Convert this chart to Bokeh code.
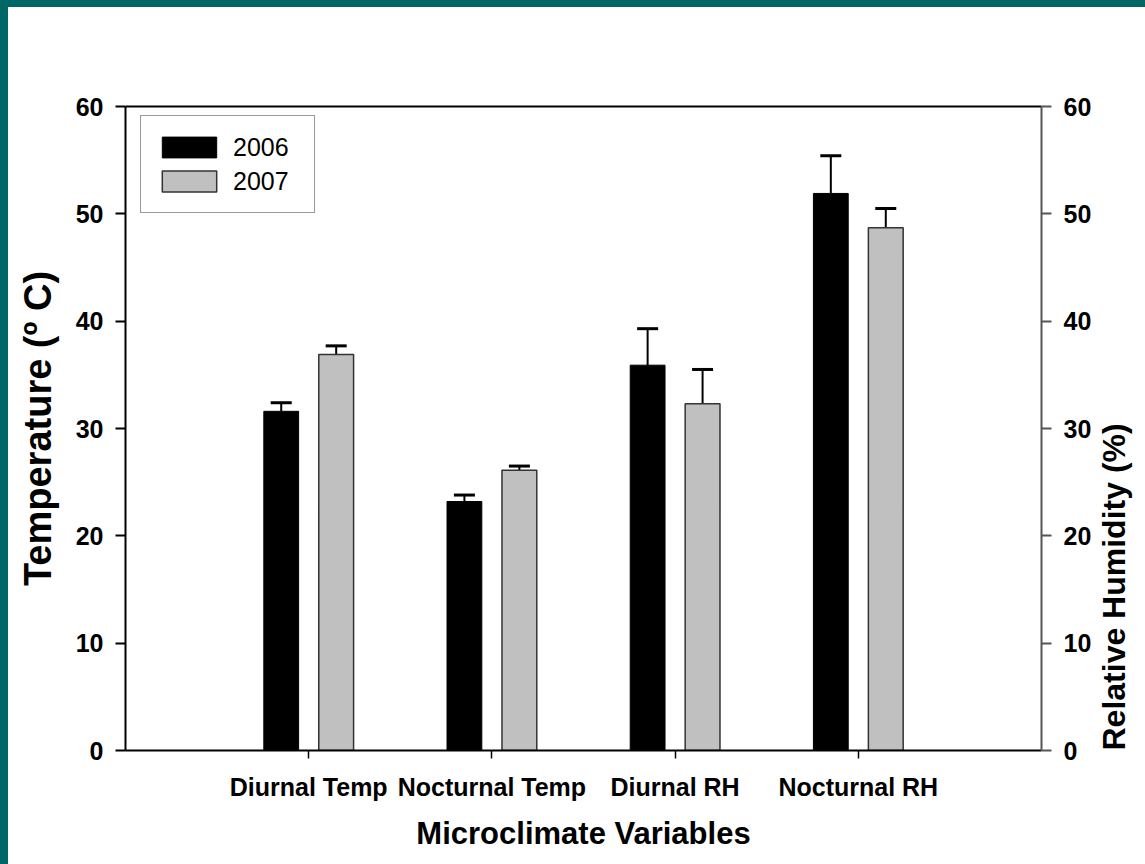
import math
from bokeh.plotting import figure
from bokeh.models import (ColumnDataSource, FixedTicker, LinearAxis, Range1d,
                          Whisker, TeeHead, Legend, LegendItem)
from bokeh.embed import file_html
from bokeh.resources import INLINE

# Microclimate means by year, with standard errors
variables = ["Diurnal Temp", "Nocturnal Temp", "Diurnal RH", "Nocturnal RH"]
years = ["2006", "2007"]
mean_2006 = [31.6, 23.2, 35.9, 51.9]
mean_2007 = [36.9, 26.1, 32.3, 48.7]
err_2006 = [0.8, 0.6, 3.4, 3.5]
err_2007 = [0.8, 0.4, 3.2, 1.8]
y_ticks = [0, 10, 20, 30, 40, 50, 60]

FONT = "Liberation Sans"
TEAL = "#006666"
W, H = 1145, 864

positions = list(range(1, len(variables) + 1))
offset = 0.15
bar_w = 0.19

src06 = ColumnDataSource(dict(
    x=[p - offset for p in positions], top=mean_2006,
    upper=[m + e for m, e in zip(mean_2006, err_2006)]))
src07 = ColumnDataSource(dict(
    x=[p + offset for p in positions], top=mean_2007,
    upper=[m + e for m, e in zip(mean_2007, err_2007)]))

p = figure(width=W, height=H, x_range=Range1d(0, 5), y_range=Range1d(0, 60),
           output_backend="svg", toolbar_location=None, tools="",
           min_border_left=117, min_border_right=108,
           min_border_top=99, min_border_bottom=121)
# teal page frame along the left and top edges
p.styles = {"border-left": f"8px solid {TEAL}", "border-top": f"7px solid {TEAL}"}
p.outline_line_color = None
p.grid.visible = False
p.background_fill_color = "white"
p.border_fill_color = "white"

r06 = p.vbar(x="x", top="top", width=bar_w, source=src06,
             fill_color="black", line_color="black", line_width=1)
r07 = p.vbar(x="x", top="top", width=bar_w, source=src07,
             fill_color="#c0c0c0", line_color="#333333", line_width=1.5)

for src in (src06, src07):
    w = Whisker(base="x", lower="top", upper="upper", source=src,
                line_color="black", line_width=2, lower_head=None,
                upper_head=TeeHead(size=21, line_width=3, line_color="black"))
    p.add_layout(w)


def style_axis(axis, tick_out, label_size="25px", title_size="31px"):
    axis.major_label_text_font = FONT
    axis.major_label_text_font_style = "bold"
    axis.major_label_text_font_size = label_size
    axis.major_label_text_color = "black"
    axis.axis_label_text_font = FONT
    axis.axis_label_text_font_style = "bold"
    axis.axis_label_text_font_size = title_size
    axis.axis_label_text_color = "black"
    axis.major_tick_out = tick_out
    axis.major_tick_in = 0
    axis.minor_tick_out = 0
    axis.minor_tick_in = 0
    axis.axis_line_width = 2
    axis.major_tick_line_width = 2


# left axis: temperature
ax = p.yaxis[0]
ax.ticker = FixedTicker(ticks=y_ticks)
ax.axis_label = "Temperature (º C)"
style_axis(ax, 10, title_size="38px")
ax.axis_label_standoff = 14
ax.major_label_standoff = 12

# bottom axis: variables
bx = p.xaxis[0]
bx.ticker = FixedTicker(ticks=positions)
bx.major_label_overrides = {p_: v for p_, v in zip(positions, variables)}
bx.axis_label = "Microclimate Variables"
style_axis(bx, 8)
bx.major_tick_line_width = 1.5
bx.major_label_standoff = 14
bx.axis_label_standoff = 12

# right axis: relative humidity, title reading bottom to top from the base
p.extra_y_ranges = {"rh": Range1d(0, 60)}
rax = LinearAxis(y_range_name="rh", ticker=FixedTicker(ticks=y_ticks))
rax.axis_label = "Relative Humidity (%)"
style_axis(rax, 10, title_size="32px")
rax.major_label_standoff = 12
rax.axis_label_standoff = 20
rax.axis_label_orientation = math.pi / 2
rax.axis_label_align = "start"
rax.axis_line_color = "#555555"
rax.major_tick_line_color = "#555555"
p.add_layout(rax, "right")

# top border line
tax = LinearAxis(ticker=FixedTicker(ticks=[]), major_label_text_font_size="0px")
tax.axis_line_width = 2
tax.major_tick_line_color = None
tax.minor_tick_line_color = None
p.add_layout(tax, "above")

legend = Legend(items=[LegendItem(label=years[0], renderers=[r06]),
                       LegendItem(label=years[1], renderers=[r07])],
                location=(15, 537), orientation="vertical")
legend.label_text_font = FONT
legend.label_text_font_size = "25px"
legend.label_text_color = "black"
legend.glyph_width = 68
legend.glyph_height = 26
legend.label_height = 34
legend.label_width = 67
legend.label_standoff = 10
legend.spacing = -3
legend.padding = 14
legend.margin = 0
legend.border_line_color = "#333333"
legend.border_line_width = 1.5
legend.background_fill_alpha = 1
p.add_layout(legend, "center")

open("out.html", "w").write(file_html(p, INLINE))
